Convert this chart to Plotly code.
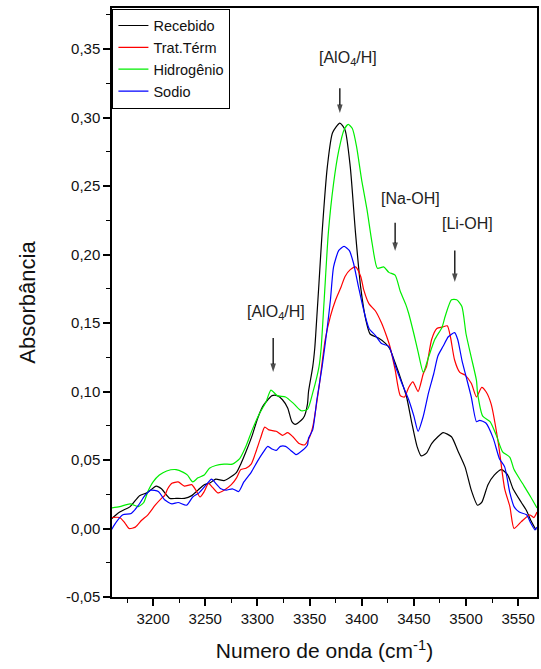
import plotly.graph_objects as go

# ---- data (wavenumber cm-1, absorbance) ----
rec_x = [3160, 3168, 3178, 3187, 3194, 3203, 3208, 3216, 3222, 3230, 3237, 3243, 3249, 3254, 3260, 3268,
         3275, 3280, 3284, 3289, 3295, 3300, 3305, 3310, 3314, 3319, 3324, 3329, 3333, 3336, 3342, 3345,
         3348, 3349, 3353, 3355, 3357, 3359, 3362, 3367, 3372, 3379, 3384, 3389, 3394, 3399, 3404, 3408,
         3416, 3423, 3427, 3432, 3438, 3443, 3448, 3453, 3457, 3462, 3467, 3473, 3478, 3486, 3492, 3499,
         3505, 3511, 3515, 3521, 3527, 3534, 3540, 3545, 3553, 3558, 3562, 3567]
rec_y = [0.007, 0.012, 0.016, 0.024, 0.026, 0.031, 0.029, 0.022, 0.022, 0.022, 0.024, 0.028, 0.032, 0.033, 0.036, 0.035,
         0.038, 0.041, 0.047, 0.056, 0.068, 0.080, 0.089, 0.094, 0.097, 0.097, 0.094, 0.088, 0.078, 0.076, 0.079, 0.082,
         0.091, 0.100, 0.118, 0.132, 0.155, 0.179, 0.216, 0.264, 0.289, 0.296, 0.291, 0.264, 0.216, 0.176, 0.152, 0.142,
         0.139, 0.135, 0.131, 0.121, 0.108, 0.096, 0.077, 0.060, 0.053, 0.055, 0.062, 0.067, 0.070, 0.067, 0.057, 0.045,
         0.028, 0.017, 0.019, 0.032, 0.039, 0.043, 0.039, 0.029, 0.019, 0.013, 0.006, -0.001]

trat_x = [3160, 3168, 3173, 3177, 3183, 3189, 3195, 3202, 3208, 3211, 3214, 3218, 3224, 3230, 3237, 3241,
          3245, 3249, 3253, 3257, 3262, 3268, 3275, 3280, 3284, 3289, 3294, 3299, 3303, 3307, 3311, 3318,
          3324, 3329, 3334, 3340, 3345, 3349, 3353, 3359, 3365, 3370, 3375, 3380, 3384, 3389, 3394, 3399,
          3402, 3407, 3413, 3419, 3424, 3427, 3432, 3437, 3441, 3445, 3449, 3454, 3459, 3462, 3467, 3472,
          3477, 3482, 3485, 3489, 3494, 3499, 3505, 3510, 3515, 3519, 3524, 3531, 3537, 3542, 3546, 3553,
          3561, 3565, 3568]
trat_y = [0.008, 0.008, 0.004, 0.000, 0.001, 0.006, 0.010, 0.017, 0.022, 0.024, 0.029, 0.033, 0.034, 0.031, 0.032, 0.028,
          0.023, 0.027, 0.033, 0.030, 0.026, 0.028, 0.032, 0.037, 0.043, 0.044, 0.047, 0.057, 0.066, 0.074, 0.072, 0.071,
          0.068, 0.070, 0.067, 0.062, 0.061, 0.065, 0.074, 0.103, 0.138, 0.155, 0.167, 0.176, 0.184, 0.189, 0.191, 0.184,
          0.174, 0.164, 0.159, 0.150, 0.140, 0.133, 0.116, 0.097, 0.096, 0.103, 0.107, 0.100, 0.113, 0.118, 0.138, 0.146,
          0.147, 0.148, 0.140, 0.123, 0.114, 0.112, 0.106, 0.096, 0.103, 0.100, 0.091, 0.062, 0.029, 0.016, 0.000, 0.005,
          0.010, 0.008, 0.012]

hid_x = [3160, 3168, 3178, 3186, 3191, 3195, 3200, 3206, 3213, 3222, 3229, 3233, 3238, 3243, 3249, 3254,
         3260, 3268, 3276, 3283, 3289, 3295, 3302, 3308, 3313, 3319, 3327, 3335, 3342, 3348, 3353, 3359,
         3361, 3364, 3368, 3373, 3378, 3383, 3387, 3391, 3395, 3400, 3405, 3410, 3415, 3421, 3426, 3432,
         3437, 3442, 3445, 3450, 3454, 3459, 3464, 3470, 3477, 3480, 3486, 3491, 3496, 3500, 3505, 3510,
         3511, 3516, 3523, 3529, 3535, 3542, 3546, 3554, 3562, 3568]
hid_y = [0.015, 0.016, 0.018, 0.016, 0.019, 0.027, 0.034, 0.039, 0.042, 0.043, 0.041, 0.039, 0.034, 0.037, 0.039, 0.044,
         0.046, 0.047, 0.047, 0.051, 0.060, 0.072, 0.084, 0.092, 0.101, 0.097, 0.096, 0.091, 0.086, 0.087, 0.099, 0.118,
         0.131, 0.167, 0.216, 0.252, 0.276, 0.291, 0.295, 0.292, 0.279, 0.254, 0.233, 0.208, 0.190, 0.191, 0.187, 0.185,
         0.173, 0.164, 0.157, 0.142, 0.129, 0.114, 0.125, 0.138, 0.147, 0.155, 0.167, 0.167, 0.162, 0.142, 0.125, 0.108,
         0.099, 0.082, 0.078, 0.068, 0.056, 0.052, 0.043, 0.033, 0.023, 0.015]

sod_x = [3160, 3165, 3171, 3179, 3186, 3192, 3198, 3205, 3211, 3218, 3224, 3232, 3238, 3244, 3251, 3256,
         3260, 3265, 3270, 3276, 3282, 3287, 3294, 3300, 3305, 3310, 3314, 3318, 3322, 3327, 3332, 3337,
         3343, 3348, 3349, 3353, 3357, 3362, 3367, 3370, 3373, 3378, 3383, 3388, 3392, 3397, 3402, 3407,
         3413, 3419, 3426, 3432, 3438, 3445, 3450, 3454, 3459, 3464, 3469, 3473, 3478, 3483, 3489, 3492,
         3496, 3500, 3505, 3510, 3513, 3519, 3526, 3532, 3537, 3542, 3546, 3551, 3558, 3562, 3566, 3568]
sod_y = [-0.001, 0.005, 0.010, 0.011, 0.017, 0.024, 0.028, 0.027, 0.021, 0.018, 0.019, 0.017, 0.023, 0.026, 0.032, 0.036,
         0.033, 0.029, 0.028, 0.029, 0.027, 0.034, 0.041, 0.049, 0.055, 0.060, 0.058, 0.057, 0.060, 0.060, 0.057, 0.054,
         0.057, 0.061, 0.066, 0.072, 0.094, 0.118, 0.147, 0.167, 0.191, 0.203, 0.206, 0.203, 0.194, 0.176, 0.159, 0.146,
         0.141, 0.135, 0.133, 0.119, 0.107, 0.094, 0.082, 0.071, 0.082, 0.099, 0.113, 0.126, 0.133, 0.140, 0.143, 0.138,
         0.123, 0.111, 0.096, 0.078, 0.079, 0.077, 0.066, 0.051, 0.045, 0.026, 0.016, 0.012, 0.010, 0.004, -0.001, 0.001]

series = [
    ("Recebido", rec_x, rec_y, "#000000"),
    ("Trat.Térm", trat_x, trat_y, "#ff0000"),
    ("Hidrogênio", hid_x, hid_y, "#00ee00"),
    ("Sodio", sod_x, sod_y, "#0000ff"),
]

# y tick labels as printed on the original (comma decimals, hyphen minus)
y_tickvals = [-0.05, 0.0, 0.05, 0.10, 0.15, 0.20, 0.25, 0.30, 0.35]
y_ticktext = ["-0,05", "0,00", "0,05", "0,10", "0,15", "0,20", "0,25", "0,30", "0,35"]

# peak labels and arrows (x position, arrow tail -> head absorbance)
labels = ["[AlO<sub>4</sub>/H]", "[Na-OH]", "[Li-OH]", "[AlO<sub>4</sub>/H]"]
label_x = [3386.6, 3446.6, 3501.0, 3317.8]
label_y = [0.343, 0.241, 0.223, 0.158]
arrow_x = [3379.0, 3432.0, 3489.2, 3315.1]
arrow_tail = [0.3215, 0.2232, 0.2030, 0.1390]
arrow_head = [0.3033, 0.2026, 0.1800, 0.1142]

FONT = "Liberation Sans, Arial, sans-serif"

fig = go.Figure()
for name, xs, ys, col in series:
    fig.add_trace(go.Scatter(x=xs, y=ys, name=name, mode="lines",
                             line=dict(color=col, width=1.2, shape="spline", smoothing=0.6)))

for x, y0, y1 in zip(arrow_x, arrow_tail, arrow_head):
    fig.add_trace(go.Scatter(x=[x, x], y=[y0, y1], mode="lines+markers", showlegend=False,
                             hoverinfo="skip",
                             line=dict(color="#000000", width=1.3),
                             marker=dict(symbol="arrow", angleref="previous", size=[0, 9],
                                         color="#000000", line=dict(width=0))))

for t, x, y in zip(labels, label_x, label_y):
    fig.add_annotation(x=x, y=y, text=t, showarrow=False,
                       font=dict(family=FONT, size=16, color="#222222"))

fig.update_layout(
    width=541, height=669,
    margin=dict(l=112, r=2, t=8, b=72),
    paper_bgcolor="white", plot_bgcolor="white",
    font=dict(family=FONT, size=15, color="#111111"),
    showlegend=True,
    legend=dict(x=0.001, y=0.999, xanchor="left", yanchor="top",
                bgcolor="white", bordercolor="#000000", borderwidth=1,
                font=dict(family=FONT, size=14.5, color="#111111"),
                tracegroupgap=0, itemwidth=30),
)
fig.update_xaxes(range=[3160.6, 3568], dtick=50, tick0=3200,
                 showgrid=False, zeroline=False,
                 showline=True, linecolor="#000000", linewidth=1.5, mirror=True,
                 ticks="outside", ticklen=7, tickwidth=1.5, tickcolor="#000000",
                 minor=dict(dtick=25, tick0=3175, ticks="outside", ticklen=4, tickwidth=1.2, tickcolor="#000000"),
                 tickfont=dict(family=FONT, size=15, color="#111111"),
                 title=dict(text="Numero de onda (cm<sup>-1</sup>)", font=dict(family=FONT, size=21, color="#111111"),
                            standoff=18))
fig.update_yaxes(range=[-0.05, 0.38], tickvals=y_tickvals, ticktext=y_ticktext,
                 showgrid=False, zeroline=False,
                 showline=True, linecolor="#000000", linewidth=1.5, mirror=True,
                 ticks="outside", ticklen=7, tickwidth=1.5, tickcolor="#000000",
                 minor=dict(dtick=0.025, tick0=0, ticks="outside", ticklen=4, tickwidth=1.2, tickcolor="#000000"),
                 tickfont=dict(family=FONT, size=15, color="#111111"),
                 title=dict(text="Absorbância", font=dict(family=FONT, size=22, color="#111111"),
                            standoff=24))

fig.write_html("out.html")
